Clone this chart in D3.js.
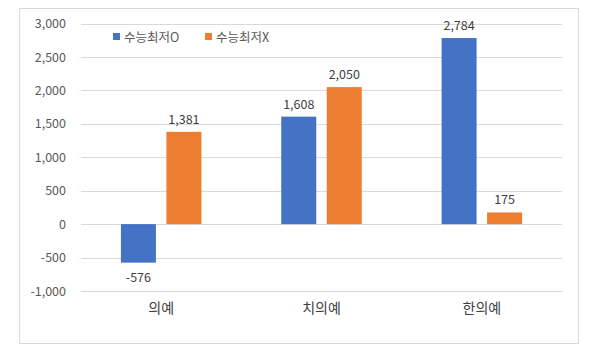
<!DOCTYPE html>
<html><head><meta charset="utf-8">
<script src="https://cdn.jsdelivr.net/npm/d3@7"></script>
<style>
body{margin:0;background:#fff;}
svg{display:block;font-family:"Noto Sans CJK KR","Noto Sans",sans-serif;}
</style></head><body>
<svg id="c" width="600" height="355"></svg>
<script>
const categories = ["의예","치의예","한의예"];
const seriesNames = ["수능최저O","수능최저X"];
const seriesO = [-576, 1608, 2784];
const seriesX = [1381, 2050, 175];
const yTicks = [-1000,-500,0,500,1000,1500,2000,2500,3000];
const colors = ["#4472c4","#ed7d31"];

const svg = d3.select("#c");
svg.append("rect").attr("x",19.5).attr("y",8.5).attr("width",559).attr("height",335)
  .attr("fill","#fff").attr("stroke","#d9d9d9");

const x = d3.scaleBand().domain(categories).range([81,562]);
const y = d3.scaleLinear().domain([-1000,3000]).range([291,23.6]);
const fmt = d3.formatLocale({decimal:".",thousands:",",grouping:[3],currency:["",""],minus:"-"}).format(",");

const grid = svg.append("g");
grid.selectAll("line").data(yTicks).join("line")
  .attr("x1",81).attr("x2",562)
  .attr("y1",d=>Math.round(y(d))+0.5).attr("y2",d=>Math.round(y(d))+0.5)
  .attr("stroke","#d9d9d9").attr("stroke-width",1);

const yAxis = svg.append("g").attr("transform","translate(70,0)")
  .call(d3.axisLeft(y).tickValues(yTicks).tickFormat(fmt).tickSize(0).tickPadding(4));
yAxis.select(".domain").remove();
yAxis.selectAll("text").attr("fill","#595959").style("font-size","12.5px")
  .style("font-family","'Noto Sans CJK KR','Noto Sans',sans-serif");

const xAxis = svg.append("g").attr("transform","translate(0,291)")
  .call(d3.axisBottom(x).tickSize(0).tickPadding(12));
xAxis.select(".domain").remove();
xAxis.selectAll("text").attr("fill","#404040").style("font-size","14px")
  .style("font-family","'Noto Sans CJK KR','Noto Sans',sans-serif");

const barW = 35, inner = 10.5;
const series = [seriesO, seriesX];
series.forEach((vals, si) => {
  const off = si === 0 ? -(inner/2 + barW) : inner/2;
  const g = svg.append("g");
  g.selectAll("rect").data(vals).join("rect")
    .attr("x",(d,i)=>x(categories[i]) + x.bandwidth()/2 + off)
    .attr("width",barW)
    .attr("y",d=>y(Math.max(0,d)))
    .attr("height",d=>Math.abs(y(d)-y(0)))
    .attr("fill",colors[si]);
  g.selectAll("text").data(vals).join("text")
    .attr("x",(d,i)=>x(categories[i]) + x.bandwidth()/2 + off + barW/2)
    .attr("y",d=> d>=0 ? y(d)-8 : y(d)+19)
    .attr("text-anchor","middle")
    .attr("fill","#404040").style("font-size","12.5px")
    .text(d=>fmt(d));
});

const leg = svg.append("g");
const legX = [113, 205];
seriesNames.forEach((n,i)=>{
  leg.append("rect").attr("x",legX[i]).attr("y",33).attr("width",7).attr("height",7).attr("fill",colors[i]);
  leg.append("text").attr("x",legX[i]+11).attr("y",41.5).attr("fill","#595959")
    .style("font-size","12.5px").text(n);
});
</script></body></html>
